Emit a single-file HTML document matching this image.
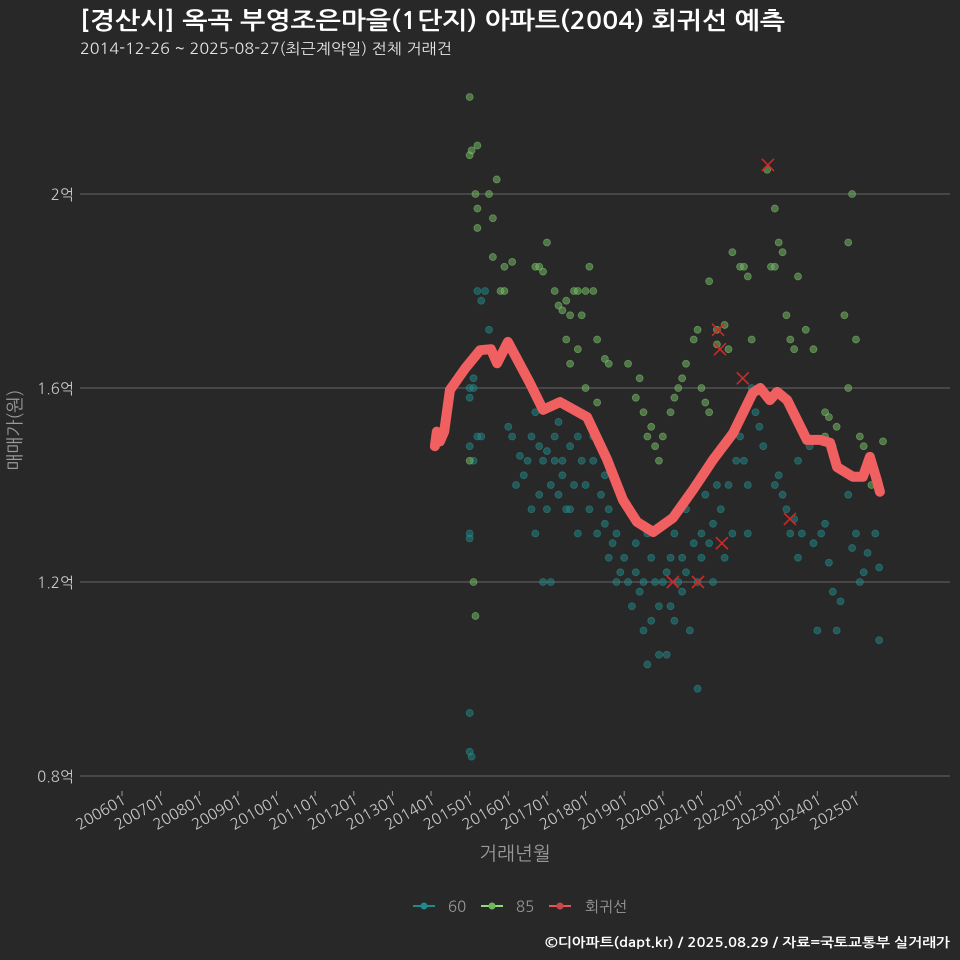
<!DOCTYPE html>
<html><head><meta charset="utf-8">
<style>
html,body{margin:0;padding:0;background:#282828;}
svg{display:block;font-family:"NanumGothic","Liberation Sans",sans-serif;}
</style></head>
<body>
<svg id="chart" width="960" height="960" viewBox="0 0 960 960" xmlns="http://www.w3.org/2000/svg">
<rect width="960" height="960" fill="#282828"/>
<text x="80" y="29" fill="#ffffff" font-size="24" font-weight="bold" textLength="705" lengthAdjust="spacingAndGlyphs">[경산시] 옥곡 부영조은마을(1단지) 아파트(2004) 회귀선 예측</text>
<text x="80" y="54" fill="#e6e6e6" font-size="15" textLength="372" lengthAdjust="spacingAndGlyphs">2014-12-26 ~ 2025-08-27(최근계약일) 전체 거래건</text>
<g id="grid"></g>
<g id="xaxis"></g>
<g id="pts60"></g>
<g id="pts85"></g>
<g id="reg"></g>
<g id="marks"></g>
<text x="0" y="0" transform="translate(21,430) rotate(-90)" text-anchor="middle" fill="#9a9a9a" font-size="18">매매가(원)</text>
<text x="515" y="860" text-anchor="middle" fill="#9a9a9a" font-size="19">거래년월</text>
<g>
<g><line x1="413" y1="906" x2="435" y2="906" stroke="#1f8a8a" stroke-width="2"/><circle cx="424" cy="906" r="3.5" fill="#1f8a8a"/><text x="448" y="912" fill="#9a9a9a" font-size="15">60</text></g>
<g><line x1="481" y1="906" x2="503" y2="906" stroke="#8fdc7a" stroke-width="2"/><circle cx="492" cy="906" r="3.5" fill="#6fb75e"/><text x="516" y="912" fill="#9a9a9a" font-size="15">85</text></g>
<g><line x1="549" y1="906" x2="571" y2="906" stroke="#e85555" stroke-width="2"/><circle cx="560" cy="906" r="3.5" fill="#c84848"/><text x="585" y="912" fill="#9a9a9a" font-size="15">회귀선</text></g>
</g>
<text x="950" y="947" text-anchor="end" fill="#ffffff" font-size="13" font-weight="bold" textLength="405" lengthAdjust="spacingAndGlyphs">©디아파트(dapt.kr) / 2025.08.29 / 자료=국토교통부 실거래가</text>
</svg>
<script>
const yTicks=[0.8,1.2,1.6,2.0];
const yTickLabels=["0.8억","1.2억","1.6억","2억"];
const xTickYears=[2006,2007,2008,2009,2010,2011,2012,2013,2014,2015,2016,2017,2018,2019,2020,2021,2022,2023,2024,2025];
const xTickLabels=["200601","200701","200801","200901","201001","201101","201201","201301","201401","201501","201601","201701","201801","201901","202001","202101","202201","202301","202401","202501"];
const s60Date=[2015.0,2015.0,2015.0,2015.0,2015.05,2015.0,2015.1,2015.1,2015.2,2015.3,2015.2,2015.3,2015.4,2015.5,2015.1,2015.0,2015.0,
2016.0,2016.1,2016.2,2016.3,2016.4,2016.5,2016.6,2016.6,2016.7,2016.8,2016.9,2016.9,2016.7,2016.8,
2017.0,2017.1,2017.2,2017.2,2017.3,2017.4,2017.5,2017.6,2017.7,2017.8,2017.9,2017.3,2017.1,2017.6,2017.8,2017.4,2017.0,
2018.0,2018.1,2018.2,2018.3,2018.4,2018.5,2018.6,2018.7,2018.8,2018.9,2018.2,2018.5,2018.8,2018.6,
2019.0,2019.1,2019.2,2019.3,2019.4,2019.5,2019.5,2019.6,2019.7,2019.8,2019.9,2019.7,2019.9,2019.3,2019.6,
2020.0,2020.1,2020.2,2020.2,2020.3,2020.4,2020.5,2020.5,2020.6,2020.7,2020.8,2020.9,2020.9,2020.1,2020.3,2020.6,
2021.0,2021.1,2021.2,2021.3,2021.4,2021.5,2021.6,2021.7,2021.8,2021.9,2021.3,2021.0,
2022.0,2022.1,2022.2,2022.3,2022.4,2022.5,2022.6,2022.2,2022.7,2022.9,
2023.0,2023.1,2023.2,2023.3,2023.4,2023.5,2023.6,2023.7,2023.8,2023.9,2023.5,
2024.0,2024.1,2024.2,2024.3,2024.4,2024.5,2024.6,2024.8,2024.9,2025.0,2025.1,2025.2,2025.3,2025.5,2025.6,2025.6,2024.4];
const s60Price=[1.3,1.29,0.93,0.85,0.84,1.48,1.45,1.6,1.5,1.5,1.8,1.78,1.8,1.72,1.62,1.58,1.6,
1.52,1.5,1.4,1.46,1.42,1.45,1.35,1.5,1.3,1.38,1.45,1.2,1.55,1.48,
1.47,1.4,1.5,1.45,1.38,1.42,1.35,1.48,1.4,1.3,1.45,1.53,1.2,1.35,1.5,1.45,1.35,
1.4,1.35,1.45,1.3,1.38,1.32,1.35,1.28,1.3,1.22,1.5,1.42,1.2,1.25,
1.25,1.2,1.15,1.22,1.18,1.2,1.1,1.03,1.12,1.2,1.15,1.25,1.05,1.28,1.3,
1.2,1.22,1.25,1.15,1.12,1.2,1.18,1.25,1.22,1.1,1.28,0.98,1.2,1.05,1.3,1.35,
1.3,1.38,1.28,1.32,1.4,1.35,1.25,1.4,1.3,1.45,1.2,1.25,
1.5,1.45,1.4,1.6,1.55,1.52,1.48,1.3,1.58,1.4,
1.42,1.38,1.35,1.3,1.33,1.45,1.3,1.5,1.48,1.28,1.25,
1.1,1.3,1.32,1.24,1.18,1.1,1.16,1.38,1.27,1.3,1.2,1.22,1.26,1.3,1.23,1.08,1.48];
const s85Date=[2015.0,2015.0,2015.05,2015.2,2015.15,2015.2,2015.2,2015.0,2015.1,2015.15,2015.5,2015.6,2015.7,2015.8,2015.9,2015.9,2016.1,2015.6,
2016.7,2016.8,2016.9,2017.0,2017.2,2017.3,2017.4,2017.5,2017.6,2017.7,2017.8,2017.9,2018.0,2018.1,2018.2,2017.5,2017.8,2018.3,2018.5,2018.6,2018.0,2017.6,2018.3,
2019.1,2019.3,2019.5,2019.6,2019.7,2019.8,2019.4,2019.9,2020.0,2020.2,2020.3,2020.4,2020.5,2020.6,2020.8,2020.9,2021.0,2021.1,2021.2,2021.4,2021.4,2021.6,2021.7,2021.2,2021.8,2022.0,2022.1,2022.2,2022.3,2022.5,2022.7,2022.8,2022.9,2022.9,2023.0,2023.1,2023.2,2023.3,2023.4,2023.5,2023.7,2023.9,2024.2,2024.3,2024.5,2024.7,2024.8,2024.9,2025.0,2025.1,2025.2,2025.4,2025.5,2025.7,2024.8,2024.2];
const s85Price=[2.2,2.08,2.09,2.1,2.0,1.97,1.93,1.45,1.2,1.13,2.0,1.95,2.03,1.8,1.85,1.8,1.86,1.87,
1.85,1.85,1.84,1.9,1.8,1.77,1.76,1.78,1.75,1.8,1.8,1.75,1.8,1.85,1.8,1.7,1.68,1.7,1.66,1.65,1.6,1.65,1.57,
1.65,1.58,1.55,1.5,1.52,1.48,1.62,1.45,1.5,1.55,1.58,1.6,1.62,1.65,1.7,1.72,1.6,1.57,1.82,1.69,1.72,1.73,1.68,1.55,1.88,1.85,1.85,1.83,1.7,1.6,2.05,1.85,1.97,1.85,1.9,1.88,1.75,1.7,1.68,1.83,1.72,1.68,1.55,1.54,1.52,1.75,1.6,2.0,1.7,1.5,1.48,1.4,1.42,1.49,1.9,1.5];
const regDate=[2014.10,2014.15,2014.23,2014.34,2014.49,2014.88,2015.27,2015.55,2015.71,2015.99,2016.56,2016.90,2017.34,2018.04,2018.56,2018.97,2019.33,2019.75,2020.26,2020.78,2021.30,2021.82,2022.33,2022.52,2022.77,2022.96,2023.22,2023.73,2024.07,2024.33,2024.51,2024.92,2025.18,2025.36,2025.54,2025.62];
const regPrice=[1.48,1.51,1.49,1.51,1.596,1.64,1.678,1.68,1.651,1.695,1.61,1.555,1.571,1.54,1.452,1.369,1.324,1.303,1.332,1.39,1.452,1.507,1.59,1.60,1.575,1.592,1.575,1.493,1.493,1.487,1.437,1.417,1.417,1.458,1.41,1.386];
const markDate=[2021.43,2021.48,2022.07,2022.72,2023.29,2021.53,2020.91,2020.26];
const markPrice=[1.72,1.68,1.62,2.06,1.33,1.28,1.2,1.2];

const NS="http://www.w3.org/2000/svg";
function X(t){return 122+(t-2006)*38.63;}
function Y(v){return 776-(v-0.8)*485;}
function mk(tag,attrs,parent){const e=document.createElementNS(NS,tag);for(const k in attrs)e.setAttribute(k,attrs[k]);parent.appendChild(e);return e;}
const grid=document.getElementById('grid');
yTicks.forEach((v,i)=>{
  const l=mk('line',{x1:80,x2:950,y1:Y(v),y2:Y(v),stroke:'#5a5a5a','stroke-width':1.3},grid);
  
  
  const t=mk('text',{x:74,y:Y(v)+6,'text-anchor':'end',fill:'#c8c8c8','font-size':15},grid);
  t.textContent=yTickLabels[i];
  
  
});
const xa=document.getElementById('xaxis');
xTickYears.forEach((yr,i)=>{
  const x=X(yr);
  const tk=mk('line',{x1:x,x2:x,y1:791,y2:796,stroke:'#9a9a9a','stroke-width':1},xa);
  
  
  const t=mk('text',{x:0,y:0,transform:`translate(${x+5},${803}) rotate(-30)`,'text-anchor':'end',fill:'#c8c8c8','font-size':15},xa);
  t.textContent=xTickLabels[i];
  
  
});
const g60=document.getElementById('pts60');
s60Date.forEach((d,i)=>{
  const c=mk('circle',{cx:X(d),cy:Y(s60Price[i]),r:3.5,fill:'#1f8a8a','fill-opacity':0.5,stroke:'#2a9a9a','stroke-opacity':0.5,'stroke-width':0.8},g60);
  
  
});
const g85=document.getElementById('pts85');
s85Date.forEach((d,i)=>{
  const c=mk('circle',{cx:X(d),cy:Y(s85Price[i]),r:3.5,fill:'#6fb75e','fill-opacity':0.55,stroke:'#8fd07a','stroke-opacity':0.5,'stroke-width':0.8},g85);
  
  
});
const reg=document.getElementById('reg');
const pl=mk('polyline',{points:regDate.map((d,i)=>X(d)+','+Y(regPrice[i])).join(' '),fill:'none',stroke:'#f06060','stroke-width':10,'stroke-linejoin':'round','stroke-linecap':'round'},reg);


const mg=document.getElementById('marks');
markDate.forEach((d,i)=>{
  const x=X(d),y=Y(markPrice[i]);
  const p=mk('path',{d:`M${x-6},${y-6}L${x+6},${y+6}M${x-6},${y+6}L${x+6},${y-6}`,stroke:'#d02828','stroke-width':1.6,fill:'none'},mg);
  
  
});
</script>
</body></html>
